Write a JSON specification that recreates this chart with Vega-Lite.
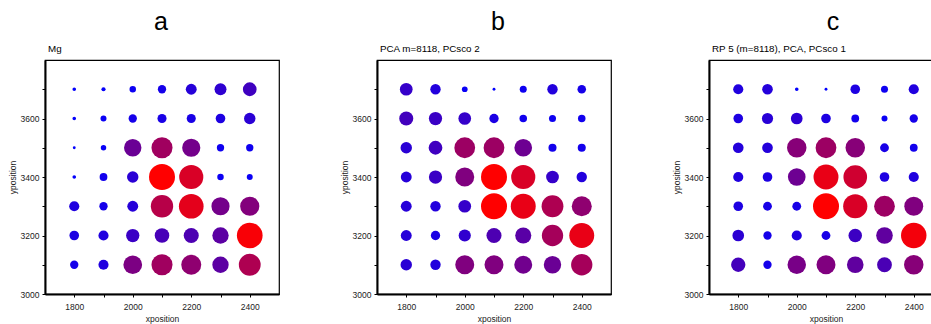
{
 "$schema": "https://vega.github.io/schema/vega-lite/v6.json",
 "padding": {"left": 7, "top": 9, "right": 0, "bottom": 0},
 "config": {
  "font": "Liberation Sans",
  "view": {"stroke": "black", "strokeWidth": 1.2},
  "axis": {"grid": false, "domainColor": "black", "domainWidth": 2, "tickColor": "black", "tickSize": 3, "labelFontSize": 8.5, "labelColor": "#222", "titleFontSize": 8.5, "titleFontWeight": "normal", "titleColor": "#222", "labelFlush": false, "labelPadding": 3, "titlePadding": 3},
  "axisX": {"labelPadding": 5, "titlePadding": 4}
 },
 "datasets": {
  "a": [
   {"x":1800,"y":3700,"v":0.14},{"x":1900,"y":3700,"v":0.16},{"x":2000,"y":3700,"v":0.25},{"x":2100,"y":3700,"v":0.32},{"x":2200,"y":3700,"v":0.42},{"x":2300,"y":3700,"v":0.46},{"x":2400,"y":3700,"v":0.53},
   {"x":1800,"y":3600,"v":0.14},{"x":1900,"y":3600,"v":0.23},{"x":2000,"y":3600,"v":0.32},{"x":2100,"y":3600,"v":0.35},{"x":2200,"y":3600,"v":0.35},{"x":2300,"y":3600,"v":0.37},{"x":2400,"y":3600,"v":0.44},
   {"x":1800,"y":3500,"v":0.11},{"x":1900,"y":3500,"v":0.21},{"x":2000,"y":3500,"v":0.67},{"x":2100,"y":3500,"v":0.81},{"x":2200,"y":3500,"v":0.70},{"x":2300,"y":3500,"v":0.28},{"x":2400,"y":3500,"v":0.28},
   {"x":1800,"y":3400,"v":0.14},{"x":1900,"y":3400,"v":0.30},{"x":2000,"y":3400,"v":0.44},{"x":2100,"y":3400,"v":1.00},{"x":2200,"y":3400,"v":0.93},{"x":2300,"y":3400,"v":0.25},{"x":2400,"y":3400,"v":0.23},
   {"x":1800,"y":3300,"v":0.39},{"x":1900,"y":3300,"v":0.32},{"x":2000,"y":3300,"v":0.42},{"x":2100,"y":3300,"v":0.86},{"x":2200,"y":3300,"v":0.95},{"x":2300,"y":3300,"v":0.70},{"x":2400,"y":3300,"v":0.74},
   {"x":1800,"y":3200,"v":0.37},{"x":1900,"y":3200,"v":0.39},{"x":2000,"y":3200,"v":0.51},{"x":2100,"y":3200,"v":0.56},{"x":2200,"y":3200,"v":0.58},{"x":2300,"y":3200,"v":0.63},{"x":2400,"y":3200,"v":0.99},
   {"x":1800,"y":3100,"v":0.32},{"x":1900,"y":3100,"v":0.39},{"x":2000,"y":3100,"v":0.72},{"x":2100,"y":3100,"v":0.81},{"x":2200,"y":3100,"v":0.77},{"x":2300,"y":3100,"v":0.63},{"x":2400,"y":3100,"v":0.84}
  ],
  "b": [
   {"x":1800,"y":3700,"v":0.49},{"x":1900,"y":3700,"v":0.40},{"x":2000,"y":3700,"v":0.22},{"x":2100,"y":3700,"v":0.11},{"x":2200,"y":3700,"v":0.27},{"x":2300,"y":3700,"v":0.40},{"x":2400,"y":3700,"v":0.33},
   {"x":1800,"y":3600,"v":0.54},{"x":1900,"y":3600,"v":0.51},{"x":2000,"y":3600,"v":0.49},{"x":2100,"y":3600,"v":0.36},{"x":2200,"y":3600,"v":0.29},{"x":2300,"y":3600,"v":0.27},{"x":2400,"y":3600,"v":0.29},
   {"x":1800,"y":3500,"v":0.44},{"x":1900,"y":3500,"v":0.53},{"x":2000,"y":3500,"v":0.80},{"x":2100,"y":3500,"v":0.80},{"x":2200,"y":3500,"v":0.68},{"x":2300,"y":3500,"v":0.31},{"x":2400,"y":3500,"v":0.31},
   {"x":1800,"y":3400,"v":0.42},{"x":1900,"y":3400,"v":0.51},{"x":2000,"y":3400,"v":0.73},{"x":2100,"y":3400,"v":1.00},{"x":2200,"y":3400,"v":0.93},{"x":2300,"y":3400,"v":0.49},{"x":2400,"y":3400,"v":0.40},
   {"x":1800,"y":3300,"v":0.42},{"x":1900,"y":3300,"v":0.40},{"x":2000,"y":3300,"v":0.49},{"x":2100,"y":3300,"v":1.00},{"x":2200,"y":3300,"v":0.96},{"x":2300,"y":3300,"v":0.84},{"x":2400,"y":3300,"v":0.77},
   {"x":1800,"y":3200,"v":0.42},{"x":1900,"y":3200,"v":0.36},{"x":2000,"y":3200,"v":0.47},{"x":2100,"y":3200,"v":0.58},{"x":2200,"y":3200,"v":0.62},{"x":2300,"y":3200,"v":0.82},{"x":2400,"y":3200,"v":0.96},
   {"x":1800,"y":3100,"v":0.44},{"x":1900,"y":3100,"v":0.40},{"x":2000,"y":3100,"v":0.73},{"x":2100,"y":3100,"v":0.73},{"x":2200,"y":3100,"v":0.69},{"x":2300,"y":3100,"v":0.67},{"x":2400,"y":3100,"v":0.82}
  ],
  "c": [
   {"x":1800,"y":3700,"v":0.39},{"x":1900,"y":3700,"v":0.41},{"x":2000,"y":3700,"v":0.14},{"x":2100,"y":3700,"v":0.11},{"x":2200,"y":3700,"v":0.37},{"x":2300,"y":3700,"v":0.27},{"x":2400,"y":3700,"v":0.39},
   {"x":1800,"y":3600,"v":0.37},{"x":1900,"y":3600,"v":0.43},{"x":2000,"y":3600,"v":0.45},{"x":2100,"y":3600,"v":0.37},{"x":2200,"y":3600,"v":0.30},{"x":2300,"y":3600,"v":0.23},{"x":2400,"y":3600,"v":0.32},
   {"x":1800,"y":3500,"v":0.41},{"x":1900,"y":3500,"v":0.41},{"x":2000,"y":3500,"v":0.75},{"x":2100,"y":3500,"v":0.80},{"x":2200,"y":3500,"v":0.75},{"x":2300,"y":3500,"v":0.34},{"x":2400,"y":3500,"v":0.30},
   {"x":1800,"y":3400,"v":0.39},{"x":1900,"y":3400,"v":0.37},{"x":2000,"y":3400,"v":0.68},{"x":2100,"y":3400,"v":0.96},{"x":2200,"y":3400,"v":0.91},{"x":2300,"y":3400,"v":0.37},{"x":2400,"y":3400,"v":0.39},
   {"x":1800,"y":3300,"v":0.37},{"x":1900,"y":3300,"v":0.34},{"x":2000,"y":3300,"v":0.34},{"x":2100,"y":3300,"v":1.00},{"x":2200,"y":3300,"v":0.93},{"x":2300,"y":3300,"v":0.80},{"x":2400,"y":3300,"v":0.73},
   {"x":1800,"y":3200,"v":0.45},{"x":1900,"y":3200,"v":0.32},{"x":2000,"y":3200,"v":0.39},{"x":2100,"y":3200,"v":0.34},{"x":2200,"y":3200,"v":0.52},{"x":2300,"y":3200,"v":0.64},{"x":2400,"y":3200,"v":0.98},
   {"x":1800,"y":3100,"v":0.55},{"x":1900,"y":3100,"v":0.32},{"x":2000,"y":3100,"v":0.71},{"x":2100,"y":3100,"v":0.73},{"x":2200,"y":3100,"v":0.64},{"x":2300,"y":3100,"v":0.57},{"x":2400,"y":3100,"v":0.75}
  ]
 },
 "spacing": 59,
 "hconcat": [
  {
   "title": {"text": "a", "fontSize": 25, "fontWeight": "normal", "anchor": "middle", "frame": "group", "offset": 9, "dx": 116},
   "vconcat": [{
    "title": {"text": "Mg", "fontSize": 9.8, "fontWeight": "normal", "anchor": "start", "frame": "group", "offset": 6, "dx": 3},
    "width": 234, "height": 234,
    "data": {"name": "a"},
    "mark": {"type": "circle", "opacity": 1},
    "encoding": {
     "x": {"field": "x", "type": "quantitative", "scale": {"domain": [1700, 2500], "nice": false, "zero": false}, "axis": {"title": "xposition", "values": [1800, 1900, 2000, 2100, 2200, 2300, 2400], "format": "d", "labelExpr": "datum.value % 200 == 0 ? datum.label : ''"}},
     "y": {"field": "y", "type": "quantitative", "scale": {"domain": [3000, 3800], "nice": false, "zero": false}, "axis": {"title": "yposition", "values": [3000, 3100, 3200, 3300, 3400, 3500, 3600, 3700], "format": "d", "labelExpr": "datum.value % 200 == 0 ? datum.label : ''"}},
     "size": {"field": "v", "type": "quantitative", "scale": {"type": "pow", "exponent": 2, "domain": [0, 1], "range": [0, 675]}, "legend": null},
     "color": {"field": "v", "type": "quantitative", "scale": {"type": "pow", "exponent": 2.2, "domain": [0, 1], "range": ["#0000ff", "#ff0000"], "interpolate": "rgb", "clamp": true}, "legend": null}
    }
   }]
  },
  {
   "title": {"text": "b", "fontSize": 25, "fontWeight": "normal", "anchor": "middle", "frame": "group", "offset": 9, "dx": 121},
   "vconcat": [{
    "title": {"text": "PCA m=8118, PCsco 2", "fontSize": 9.8, "fontWeight": "normal", "anchor": "start", "frame": "group", "offset": 6, "dx": 3},
    "width": 234, "height": 234,
    "data": {"name": "b"},
    "mark": {"type": "circle", "opacity": 1},
    "encoding": {
     "x": {"field": "x", "type": "quantitative", "scale": {"domain": [1700, 2500], "nice": false, "zero": false}, "axis": {"title": "xposition", "values": [1800, 1900, 2000, 2100, 2200, 2300, 2400], "format": "d", "labelExpr": "datum.value % 200 == 0 ? datum.label : ''"}},
     "y": {"field": "y", "type": "quantitative", "scale": {"domain": [3000, 3800], "nice": false, "zero": false}, "axis": {"title": "yposition", "values": [3000, 3100, 3200, 3300, 3400, 3500, 3600, 3700], "format": "d", "labelExpr": "datum.value % 200 == 0 ? datum.label : ''"}},
     "size": {"field": "v", "type": "quantitative", "scale": {"type": "pow", "exponent": 2, "domain": [0, 1], "range": [0, 675]}, "legend": null},
     "color": {"field": "v", "type": "quantitative", "scale": {"type": "pow", "exponent": 2.2, "domain": [0, 1], "range": ["#0000ff", "#ff0000"], "interpolate": "rgb", "clamp": true}, "legend": null}
    }
   }]
  },
  {
   "title": {"text": "c", "fontSize": 25, "fontWeight": "normal", "anchor": "middle", "frame": "group", "offset": 9, "dx": 124},
   "vconcat": [{
    "title": {"text": "RP 5 (m=8118), PCA, PCsco 1", "fontSize": 9.8, "fontWeight": "normal", "anchor": "start", "frame": "group", "offset": 6, "dx": 3},
    "width": 234, "height": 234,
    "data": {"name": "c"},
    "mark": {"type": "circle", "opacity": 1},
    "encoding": {
     "x": {"field": "x", "type": "quantitative", "scale": {"domain": [1700, 2500], "nice": false, "zero": false}, "axis": {"title": "xposition", "values": [1800, 1900, 2000, 2100, 2200, 2300, 2400], "format": "d", "labelExpr": "datum.value % 200 == 0 ? datum.label : ''"}},
     "y": {"field": "y", "type": "quantitative", "scale": {"domain": [3000, 3800], "nice": false, "zero": false}, "axis": {"title": "yposition", "values": [3000, 3100, 3200, 3300, 3400, 3500, 3600, 3700], "format": "d", "labelExpr": "datum.value % 200 == 0 ? datum.label : ''"}},
     "size": {"field": "v", "type": "quantitative", "scale": {"type": "pow", "exponent": 2, "domain": [0, 1], "range": [0, 675]}, "legend": null},
     "color": {"field": "v", "type": "quantitative", "scale": {"type": "pow", "exponent": 2.2, "domain": [0, 1], "range": ["#0000ff", "#ff0000"], "interpolate": "rgb", "clamp": true}, "legend": null}
    }
   }]
  }
 ]
}
